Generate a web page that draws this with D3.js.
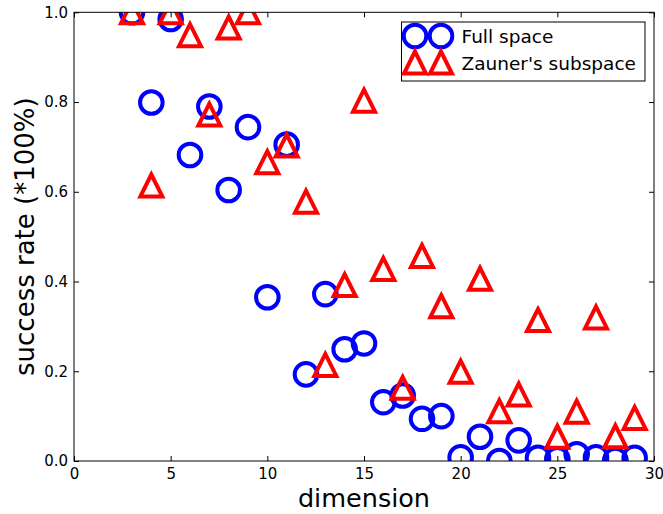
<!DOCTYPE html>
<html>
<head>
<meta charset="utf-8">
<script src="https://cdn.jsdelivr.net/npm/d3@7"></script>
<style>
  body { margin: 0; background: #fff; }
  svg { display: block; font-family: "DejaVu Sans", sans-serif; }
</style>
</head>
<body>
<svg id="chart" width="663" height="514"></svg>
<script>
// dimensions (x)
const dims = [3, 4, 5, 6, 7, 8, 9, 10, 11, 12, 13, 14, 15, 16, 17, 18, 19, 20, 21, 22, 23, 24, 25, 26, 27, 28, 29];
// success rate, full space
const fullSpace = [1.0, 0.799, 0.985, 0.682, 0.790, 0.604, 0.744, 0.365, 0.705, 0.193, 0.372, 0.249, 0.262, 0.131,
  0.146, 0.094, 0.100, 0.008, 0.054, 0.0, 0.046, 0.007, 0.004, 0.015, 0.008, 0.002, 0.007];
// success rate, Zauner's subspace
const zauner = [1.0, 0.614, 1.0, 0.949, 0.772, 0.966, 1.0, 0.666, 0.703, 0.578, 0.214, 0.392, 0.803, 0.428,
  0.163, 0.457, 0.345, 0.199, 0.406, 0.111, 0.148, 0.314, 0.054, 0.110, 0.320, 0.055, 0.096];
const xTicks = [0, 5, 10, 15, 20, 25, 30];
const yTicks = [0, 0.2, 0.4, 0.6, 0.8, 1.0];
const legendLabels = ["Full space", "Zauner's subspace"];

const svg = d3.select("#chart");
const pLeft = 74, pRight = 654, pTop = 12.3, pBottom = 461;

const x = d3.scaleLinear().domain([0, 30]).range([pLeft, pRight]);
const y = d3.scaleLinear().domain([0, 1]).range([pBottom, pTop]);

const r = 11.3;   // circle radius
const s = 11;     // triangle half size
const tri = "M0," + (-s) + "L" + (-s) + "," + s + "L" + s + "," + s + "Z";

svg.append("clipPath").attr("id", "clip")
  .append("rect").attr("x", pLeft).attr("y", pTop)
  .attr("width", pRight - pLeft).attr("height", pBottom - pTop);

const plot = svg.append("g").attr("clip-path", "url(#clip)");

// full space circles
plot.selectAll("circle.full")
  .data(dims.map((d, i) => [d, fullSpace[i]]))
  .join("circle")
  .attr("class", "full")
  .attr("cx", d => x(d[0])).attr("cy", d => y(d[1]))
  .attr("r", r)
  .attr("fill", "none").attr("stroke", "#0000ff").attr("stroke-width", 4);

// zauner triangles
plot.selectAll("path.zau")
  .data(dims.map((d, i) => [d, zauner[i]]))
  .join("path")
  .attr("class", "zau")
  .attr("d", tri)
  .attr("transform", d => "translate(" + x(d[0]) + "," + y(d[1]) + ")")
  .attr("fill", "none").attr("stroke", "#ff0000").attr("stroke-width", 4)
  .attr("stroke-linejoin", "miter");

// axes, ticks pointing inward
function styleAxis(g) {
  g.select(".domain").remove();
  g.selectAll(".tick line").attr("stroke", "#000").attr("stroke-width", 1);
  g.selectAll(".tick text").attr("fill", "#000").attr("font-size", 15)
    .attr("font-family", "DejaVu Sans, sans-serif");
}

svg.append("g").attr("transform", "translate(0," + pBottom + ")")
  .call(d3.axisBottom(x).tickValues(xTicks).tickSize(-5).tickPadding(7.5).tickFormat(d3.format("d")))
  .call(styleAxis);
svg.append("g").attr("transform", "translate(0," + pTop + ")")
  .call(d3.axisTop(x).tickValues(xTicks).tickSize(-5).tickFormat(""))
  .call(styleAxis);
svg.append("g").attr("transform", "translate(" + pLeft + ",0)")
  .call(d3.axisLeft(y).tickValues(yTicks).tickSize(-5).tickPadding(6).tickFormat(d3.format(".1f")))
  .call(styleAxis);
svg.append("g").attr("transform", "translate(" + pRight + ",0)")
  .call(d3.axisRight(y).tickValues(yTicks).tickSize(-5).tickFormat(""))
  .call(styleAxis);

// frame
svg.append("rect")
  .attr("x", pLeft).attr("y", pTop).attr("width", pRight - pLeft).attr("height", pBottom - pTop)
  .attr("fill", "none").attr("stroke", "#000").attr("stroke-width", 1);

// axis labels
svg.append("text")
  .attr("x", (pLeft + pRight) / 2).attr("y", 507)
  .attr("text-anchor", "middle").attr("font-size", 25.5)
  .text("dimension");
svg.append("text")
  .attr("transform", "translate(33.5," + (pTop + pBottom) / 2 + ") rotate(-90)")
  .attr("text-anchor", "middle").attr("font-size", 26)
  .text("success rate (*100%)");

// legend
const leg = svg.append("g");
leg.append("rect")
  .attr("x", 401.5).attr("y", 22).attr("width", 243.5).attr("height", 59)
  .attr("fill", "#fff").attr("stroke", "#000").attr("stroke-width", 1);
[415, 441].forEach(px => {
  leg.append("circle").attr("cx", px).attr("cy", 36).attr("r", r)
    .attr("fill", "none").attr("stroke", "#0000ff").attr("stroke-width", 4);
});
[415, 441].forEach(px => {
  leg.append("path").attr("d", tri).attr("transform", "translate(" + px + ",62.5)")
    .attr("fill", "none").attr("stroke", "#ff0000").attr("stroke-width", 4);
});
leg.selectAll("text.lab")
  .data(legendLabels)
  .join("text")
  .attr("class", "lab")
  .attr("x", 461.5).attr("y", (d, i) => 43 + i * 27)
  .attr("font-size", 18.5)
  .text(d => d);
</script>
</body>
</html>
